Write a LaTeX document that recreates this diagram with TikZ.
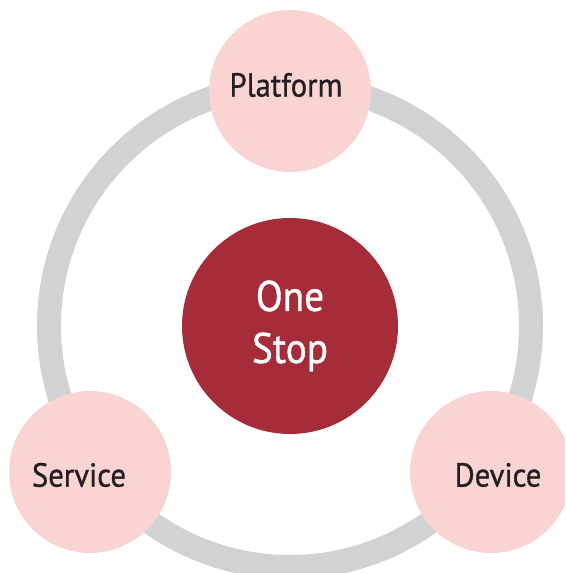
\documentclass[tikz,border=0pt]{standalone}
\usepackage{fontspec}
\setmainfont{PT Sans}
\newfontfamily\tagfont[FakeBold=0.9, FakeStretch=0.92]{PT Sans}
\definecolor{ringgray}{HTML}{D1D2D4}
\definecolor{hubred}{HTML}{A62C3A}
\definecolor{partpink}{HTML}{FAD4D3}
\definecolor{inkblack}{HTML}{231F20}

\begin{document}
\begin{tikzpicture}[x=0.75pt, y=0.75pt,
  hub/.style={circle, fill=hubred, minimum size=162pt, inner sep=0pt, text=white, align=center, font=\tagfont\fontsize{32}{39}\selectfont},
  part/.style={circle, fill=partpink, minimum size=121.5pt, inner sep=0pt},
  tag/.style={inner sep=0pt, text=inkblack, font=\tagfont\fontsize{25}{30}\selectfont}]
\clip (0,0) rectangle (565,573);
\coordinate (mid) at (290,247);
\draw [ringgray, line width=18pt] (mid) circle [radius=180.75pt];
\node [hub] (onestop) at (mid) {One\\Stop};
\node [part] (platform) at (290,482) {};
\node [part] (service) at (90,101) {};
\node [part] (device) at (491,101) {};
\node [tag] (platformtag) at ([shift={(-4,6)}]platform.center) {Platform};
\node [tag] (servicetag) at ([shift={(-11,-3)}]service.center) {Service};
\node [tag] (devicetag) at ([shift={(7,-3)}]device.center) {Device};
\end{tikzpicture}
\end{document}
